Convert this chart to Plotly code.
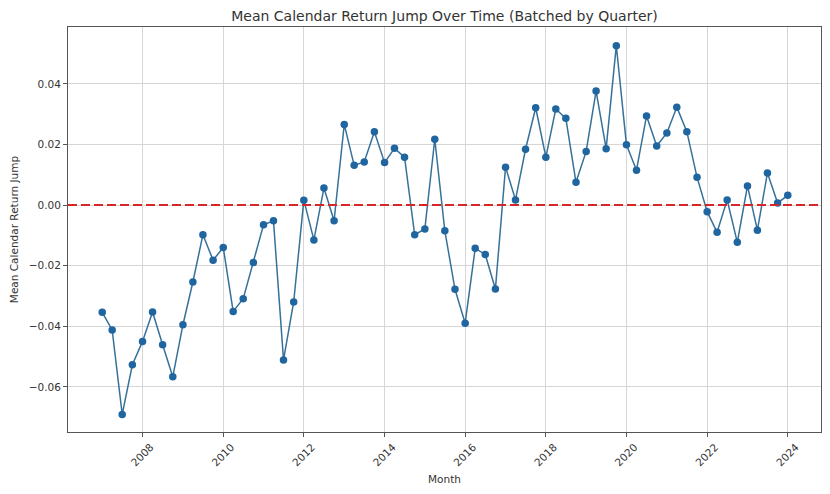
import pandas as pd
import plotly.graph_objects as go

quarters = pd.date_range("2006-12-31", "2023-12-31", freq="QE")

mean_jump = [
    -0.0354, -0.0412, -0.0691, -0.0527, -0.0450, -0.0353, -0.0461, -0.0567,
    -0.0395, -0.0254, -0.0098, -0.0182, -0.0140, -0.0351, -0.0309, -0.0190,
    -0.0065, -0.0052, -0.0511, -0.0320, 0.0016, -0.0115, 0.0056, -0.0052,
    0.0266, 0.0131, 0.0142, 0.0242, 0.0140, 0.0187, 0.0158, -0.0098,
    -0.0079, 0.0217, -0.0085, -0.0278, -0.0390, -0.0143, -0.0163, -0.0277,
    0.0125, 0.0017, 0.0184, 0.0321, 0.0158, 0.0317, 0.0286, 0.0075,
    0.0177, 0.0376, 0.0186, 0.0526, 0.0199, 0.0115, 0.0294, 0.0195,
    0.0238, 0.0323, 0.0242, 0.0092, -0.0022, -0.0090, 0.0017, -0.0123,
    0.0063, -0.0083, 0.0106, 0.0007, 0.0032,
]

x_ticks = [f"{y}-01-01" for y in range(2008, 2025, 2)]
x_tick_labels = [str(y) for y in range(2008, 2025, 2)]
y_ticks = [-0.06, -0.04, -0.02, 0.00, 0.02, 0.04]
y_tick_labels = ["\u22120.06", "\u22120.04", "\u22120.02", "0.00", "0.02", "0.04"]

FONT = "DejaVu Sans"
TEXT = "#333333"
GRID = "#d6d6d6"
SPINE = "#555555"

# page body has an 8px default margin, so the figure is sized to fit the window
W, H = 822, 486

fig = go.Figure()
fig.add_trace(go.Scatter(
    x=quarters, y=mean_jump, mode="lines+markers",
    line=dict(color="#36719a", width=1.5),
    marker=dict(color="#1f65a0", size=7.5),
    showlegend=False,
))

fig.add_shape(type="line", xref="paper", x0=0, x1=1, yref="y", y0=0, y1=0,
              line=dict(color="#d62728", width=2, dash="9px,4px"), layer="above")

fig.update_layout(
    width=W, height=H,
    margin=dict(l=60, r=9, t=19, b=62, autoexpand=False),
    paper_bgcolor="white", plot_bgcolor="white",
    font=dict(family=FONT, size=10.5, color=TEXT),
    title=dict(text="Mean Calendar Return Jump Over Time (Batched by Quarter)",
               x=0.5, xref="paper", xanchor="center", y=1 - 8 / H, yref="container",
               yanchor="middle", automargin=False,
               font=dict(family=FONT, size=14, color=TEXT)),
    xaxis=dict(
        type="date", automargin=False,
        range=["2006-02-24", "2024-10-27"],
        tickvals=x_ticks, ticktext=x_tick_labels, tickangle=-45,
        ticks="outside", ticklen=4, tickcolor=SPINE,
        showgrid=True, gridcolor=GRID, gridwidth=1,
        showline=True, linecolor=SPINE, linewidth=1, mirror=True,
        zeroline=False, ticklabelshift=8,
        title=dict(text="Month", font=dict(family=FONT, size=10.5, color=TEXT), standoff=8),
    ),
    yaxis=dict(
        automargin=False,
        range=[-0.0749, 0.05875],
        tickvals=y_ticks, ticktext=y_tick_labels,
        ticks="outside", ticklen=4, tickcolor=SPINE,
        showgrid=True, gridcolor=GRID, gridwidth=1,
        showline=True, linecolor=SPINE, linewidth=1, mirror=True,
        zeroline=False,
        title=dict(text="Mean Calendar Return Jump", font=dict(family=FONT, size=10.5, color=TEXT), standoff=8),
    ),
)

fig.write_html("out.html")
